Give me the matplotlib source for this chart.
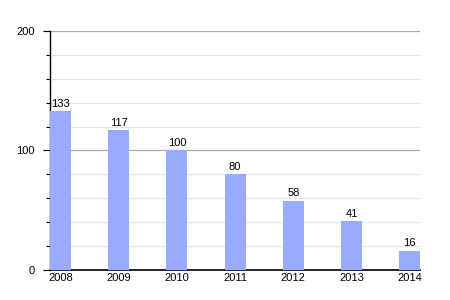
import numpy as np
import matplotlib.pyplot as plt
from matplotlib.ticker import MultipleLocator

years = ['2008', '2009', '2010', '2011', '2012', '2013', '2014']
values = [133, 117, 100, 80, 58, 41, 16]

plt.rcParams['font.family'] = ['Liberation Sans', 'DejaVu Sans']

fig = plt.figure(figsize=(4.5, 3), dpi=100)
ax = fig.add_axes([0.111, 0.1, 0.823, 0.797])

w = 0.36
x = np.arange(len(years))
bars = ax.bar(x, values, width=w, color='#99aaff', zorder=3)
for xi, v in zip(x, values):
    ax.text(xi, v + 2, str(v), ha='center', va='bottom', fontsize=8, zorder=4)

ax.set_xlim(-w / 2, len(years) - 1 + w / 2)
ax.set_ylim(0, 200)
ax.set_xticks(x)
ax.set_xticklabels(years, fontsize=8)
ax.set_yticks([0, 100, 200])
ax.set_yticklabels(['0', '100', '200'], fontsize=8)
ax.yaxis.set_minor_locator(MultipleLocator(20))

ax.grid(axis='y', which='major', color='#aaaaaa', linewidth=0.9, zorder=0)
ax.grid(axis='y', which='minor', color='#e6e6e6', linewidth=0.9, zorder=0)
ax.tick_params(axis='x', length=0, pad=2)
ax.tick_params(axis='y', which='major', length=5, width=0.8, pad=6)
ax.tick_params(axis='y', which='minor', length=3, width=0.8)

ax.spines['top'].set_visible(False)
ax.spines['right'].set_visible(False)
ax.spines['left'].set_linewidth(1)
ax.spines['bottom'].set_linewidth(1.2)

fig.savefig('out.png', dpi=100)
